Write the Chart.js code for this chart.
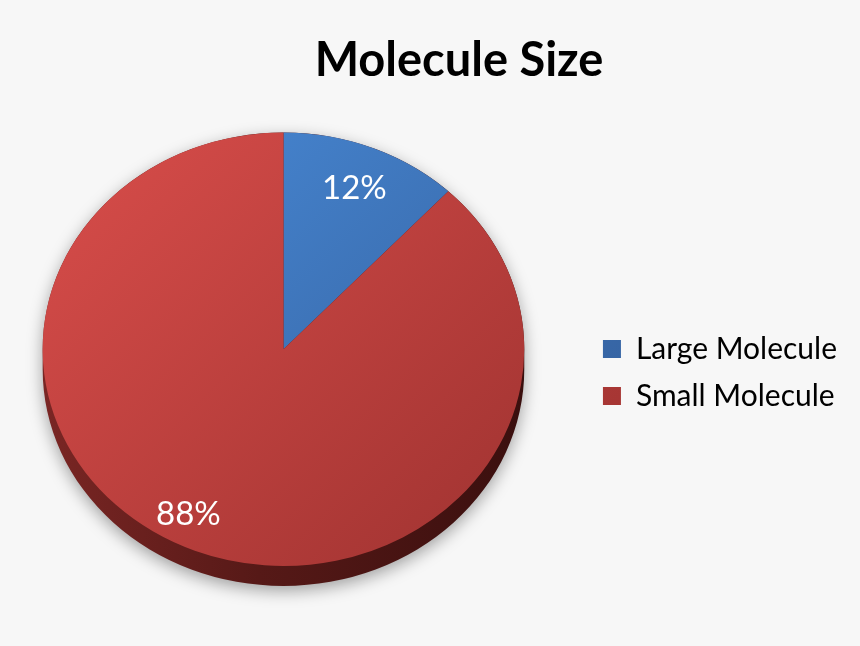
<!DOCTYPE html>
<html>
<head>
<meta charset="utf-8">
<script src="https://cdn.jsdelivr.net/npm/chart.js@4"></script>
<style>
  html, body { margin: 0; padding: 0; background: #f7f7f7; }
  #wrap { width: 860px; height: 646px; }
</style>
</head>
<body>
<div id="wrap"><canvas id="c" width="860" height="646"></canvas></div>
<script>
const categories = ['Large Molecule', 'Small Molecule'];
const shares = [12, 88];
const labelsText = ['12%', '88%'];
const titleText = 'Molecule Size';

// 3D-look view settings (presentation only)
const squash = 0.9;
const depth = 20;
const viewShiftX = -45;
const viewShiftY = 4;
const labelRadiusFactor = [0.8, 0.86];
const labelAngleNudge = [0, 0.1];

function fillFor(i, ctx, area) {
  if (!area) return i === 0 ? '#3d7cc9' : '#c8403d';
  const g = ctx.createLinearGradient(area.left, area.top, area.right, area.bottom);
  if (i === 0) { g.addColorStop(0, '#4a8ddb'); g.addColorStop(1, '#325c98'); }
  else { g.addColorStop(0, '#da4e4b'); g.addColorStop(1, '#9e3230'); }
  return g;
}

function applyView(ctx, x, y) {
  ctx.translate(x + viewShiftX, y + viewShiftY);
  ctx.scale(1, squash);
  ctx.translate(-x, -y);
}

const pie3d = {
  id: 'pie3d',
  beforeDatasetsDraw(chart) {
    const meta = chart.getDatasetMeta(0);
    const arc = meta.data[0];
    if (!arc) return;
    const { x, y, outerRadius: R } = arc;
    const ctx = chart.ctx;
    const cx = x + viewShiftX, cy = y + viewShiftY;
    ctx.save();
    const g = ctx.createLinearGradient(cx - R, 0, cx + R, 0);
    g.addColorStop(0, '#7a2624');
    g.addColorStop(0.45, '#561917');
    g.addColorStop(1, '#3a0f0e');
    ctx.shadowColor = 'rgba(0,0,0,0.35)';
    ctx.shadowBlur = 16;
    ctx.shadowOffsetY = 5;
    ctx.fillStyle = g;
    ctx.beginPath();
    ctx.ellipse(cx, cy + depth, R, R * squash, 0, 0, Math.PI);
    ctx.lineTo(cx - R, cy);
    ctx.ellipse(cx, cy, R, R * squash, 0, Math.PI, 2 * Math.PI);
    ctx.closePath();
    ctx.fill();
    ctx.restore();
    ctx.save();
    applyView(ctx, x, y);
  },
  afterDatasetsDraw(chart) {
    const ctx = chart.ctx;
    ctx.restore();
    const meta = chart.getDatasetMeta(0);
    ctx.save();
    ctx.fillStyle = '#ffffff';
    ctx.font = '33px Lato, "Open Sans", sans-serif';
    ctx.textAlign = 'center';
    ctx.textBaseline = 'middle';
    meta.data.forEach((a, i) => {
      const mid = (a.startAngle + a.endAngle) / 2 + labelAngleNudge[i];
      const r = a.outerRadius * labelRadiusFactor[i];
      const px = a.x + viewShiftX + Math.cos(mid) * r;
      const py = a.y + viewShiftY + Math.sin(mid) * r * squash;
      ctx.fillText(labelsText[i], px, py);
    });
    ctx.restore();
  }
};

new Chart(document.getElementById('c'), {
  type: 'pie',
  data: {
    labels: categories,
    datasets: [{
      data: shares,
      borderWidth: 0,
      backgroundColor: (c) => fillFor(c.dataIndex, c.chart.ctx, c.chart.chartArea)
    }]
  },
  options: {
    responsive: false,
    animation: false,
    layout: { padding: { top: 0, bottom: 60, left: 71, right: 13 } },
    plugins: {
      title: {
        display: true,
        text: titleText,
        color: '#000',
        font: { family: 'Lato, "Open Sans", sans-serif', size: 47, weight: 'bold' },
        padding: { top: 33, bottom: 15 }
      },
      legend: {
        position: 'right',
        fullSize: false,
        title: { display: true, text: ' ', font: { size: 19 }, padding: 16 },
        labels: {
          color: '#000',
          boxWidth: 18,
          boxHeight: 18,
          padding: 17,
          font: { family: 'Lato, "Open Sans", sans-serif', size: 30 }
        }
      },
      tooltip: { enabled: false }
    }
  },
  plugins: [pie3d]
});
</script>
</body>
</html>
